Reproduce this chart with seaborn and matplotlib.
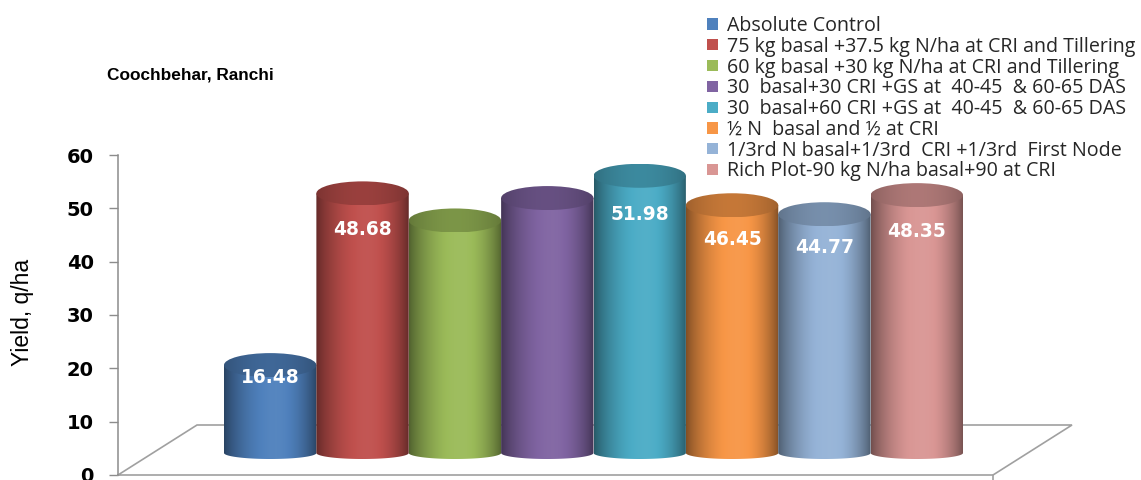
import numpy as np
import pandas as pd
import matplotlib
matplotlib.use("Agg")
import matplotlib.pyplot as plt
import matplotlib.patches as mpatches
from matplotlib.path import Path
from matplotlib.colors import to_rgb
import seaborn as sns

# ---- data -------------------------------------------------------------
treatments = [
    "Absolute Control",
    "75 kg basal +37.5 kg N/ha at CRI and Tillering",
    "60 kg basal +30 kg N/ha at CRI and Tillering",
    "30  basal+30 CRI +GS at  40-45  & 60-65 DAS",
    "30  basal+60 CRI +GS at  40-45  & 60-65 DAS",
    "\u00bd N  basal and \u00bd at CRI",
    "1/3rd N basal+1/3rd  CRI +1/3rd  First Node",
    "Rich Plot-90 kg N/ha basal+90 at CRI",
]
yields = [16.48, 48.68, 43.6, 47.8, 51.98, 46.45, 44.77, 48.35]
show_value = [True, True, False, False, True, True, True, True]
colors = ["#4F81BD", "#C0504D", "#9BBB59", "#8064A2",
          "#4BACC6", "#F79646", "#95B3D7", "#D99694"]
location = "Coochbehar, Ranchi"
y_label = "Yield, q/ha"
y_ticks = [0, 10, 20, 30, 40, 50, 60]

df = pd.DataFrame({"treatment": treatments, "yield": yields})

sns.set_theme(style="white")
plt.rcParams["font.family"] = ["Liberation Sans", "DejaVu Sans"]

W, H = 1141, 480
fig = plt.figure(figsize=(W / 100, H / 100), dpi=100)

# ---- value axis with the floor of the 3-D box ---------------------------
ppu = 320 / 60.0                       # pixels per yield unit
ax_scale = fig.add_axes([118 / W, 5 / H, (1072 - 118) / W, 320 / H])
ax_scale.set_xlim(0, 1)
ax_scale.set_ylim(0, 60)
ax_scale.set_facecolor("none")
for side in ("top", "right", "bottom"):
    ax_scale.spines[side].set_visible(False)
ax_scale.spines["left"].set_color("#8c8c8c")
ax_scale.spines["left"].set_linewidth(1.1)
ax_scale.set_xticks([])
ax_scale.set_yticks(y_ticks)
ax_scale.set_yticklabels([str(t) for t in y_ticks],
                         fontfamily="DejaVu Sans", fontweight="bold",
                         fontsize=14, color="black")
ax_scale.tick_params(axis="y", direction="out", length=6.5, width=1.0,
                     color="#8c8c8c", pad=11, left=True)

floor_back = 50 / ppu
bl, fr = 79 / 954, 875 / 954
floor_x = [0, bl, 1, fr, 0]
floor_y = [0, floor_back, floor_back, 0, 0]
ax_scale.plot(floor_x, floor_y, color="#a0a0a0", lw=1.2, clip_on=False,
              solid_joinstyle="miter")
ax_scale.plot([fr, fr], [0, -2], color="#a0a0a0", lw=1.2, clip_on=False)

fig.text(23 / W, 1 - 312 / H, y_label, rotation=90, ha="center",
         va="center", fontsize=16.5, color="black")
fig.text(107 / W, 1 - 75 / H, location, ha="left", va="center",
         fontsize=12.4, fontweight="bold", color="black")

# ---- cylinders ------------------------------------------------------------
ax_bar = fig.add_axes([224 / W, (H - 453 - 5 * ppu) / H,
                       (963 - 224) / W, 65 * ppu / H])
ax_bar.set_facecolor("none")
sns.barplot(data=df, x="treatment", y="yield", hue="treatment",
            palette=colors, width=1.0, dodge=False, legend=False,
            ax=ax_bar)
ax_bar.set_xlim(-0.5, 7.5)
ax_bar.set_ylim(-5, 60)
ax_bar.axis("off")


def shade(rgb, f):
    rgb = np.asarray(rgb)
    f = np.asarray(f)[:, None]
    dark = rgb * np.minimum(f, 1.0)
    light = rgb + (1 - rgb) * np.clip(f - 1.0, 0, 1)
    return np.where(f <= 1.0, dark, light)


def profile(n, lo, hi, peak=0.56):
    t = np.linspace(0, 1, n)
    s = np.where(t < peak, t / peak, (1 - t) / (1 - peak))
    s = np.sin(np.clip(s, 0, 1) * np.pi / 2) ** 0.8
    return lo + (hi - lo) * s


cap_h = 24 / ppu      # height of the top ellipse in data units
base_h = 12 / ppu     # height of the bottom ellipse in data units

bars = sorted(ax_bar.patches, key=lambda p: p.get_x())
for i, (p, col, val, lab) in enumerate(zip(bars, colors, yields, show_value)):
    x0, w, v = p.get_x(), p.get_width(), p.get_height()
    xc = x0 + w / 2
    p.set_visible(False)
    rgb = to_rgb(col)
    z = 2 + i * 3

    # body: rectangle with a rounded (elliptical) bottom
    th = np.linspace(np.pi, 2 * np.pi, 60)
    bx = xc + (w / 2) * np.cos(th)
    by = (base_h / 2) * np.sin(th)
    verts = list(zip(bx, by)) + [(x0 + w, v), (x0, v), (bx[0], by[0])]
    codes = [Path.MOVETO] + [Path.LINETO] * (len(verts) - 2) + [Path.CLOSEPOLY]
    body_clip = mpatches.PathPatch(Path(verts, codes), transform=ax_bar.transData,
                                   facecolor="none", edgecolor="none")
    ax_bar.add_patch(body_clip)
    grad = shade(rgb, profile(128, 0.52, 1.04))[None, :, :]
    im = ax_bar.imshow(np.repeat(grad, 2, axis=0), extent=(x0, x0 + w, -base_h, v),
                       aspect="auto", interpolation="bilinear", zorder=z)
    im.set_clip_path(body_clip)

    # top cap
    cap = mpatches.Ellipse((xc, v), w, cap_h, transform=ax_bar.transData,
                           facecolor="none", edgecolor="none")
    ax_bar.add_patch(cap)
    cgrad = shade(rgb, profile(128, 0.64, 0.8, peak=0.5))[None, :, :]
    imc = ax_bar.imshow(np.repeat(cgrad, 2, axis=0),
                        extent=(x0, x0 + w, v - cap_h / 2, v + cap_h / 2),
                        aspect="auto", interpolation="bilinear", zorder=z + 1)
    imc.set_clip_path(cap)

    if lab:
        ax_bar.text(xc, 0.86 * val, f"{val:.2f}", ha="center", va="center",
                    color="white", fontsize=13.4, fontweight="bold",
                    fontfamily="DejaVu Sans", zorder=z + 2)

ax_bar.set_xlim(-0.5, 7.5)
ax_bar.set_ylim(-5, 60)

# ---- legend ---------------------------------------------------------------
handles = [mpatches.Patch(facecolor=c, edgecolor="none", label=t)
           for c, t in zip(colors, treatments)]
fig.legend(handles=handles, loc="upper left",
           bbox_to_anchor=(707 / W, 1 - 16 / H), frameon=False,
           prop={"family": "Open Sans", "size": 14.1},
           handlelength=0.58, handleheight=0.5, handletextpad=0.42,
           labelspacing=0.04, borderpad=0, borderaxespad=0)

fig.savefig("out.png", dpi=100)
